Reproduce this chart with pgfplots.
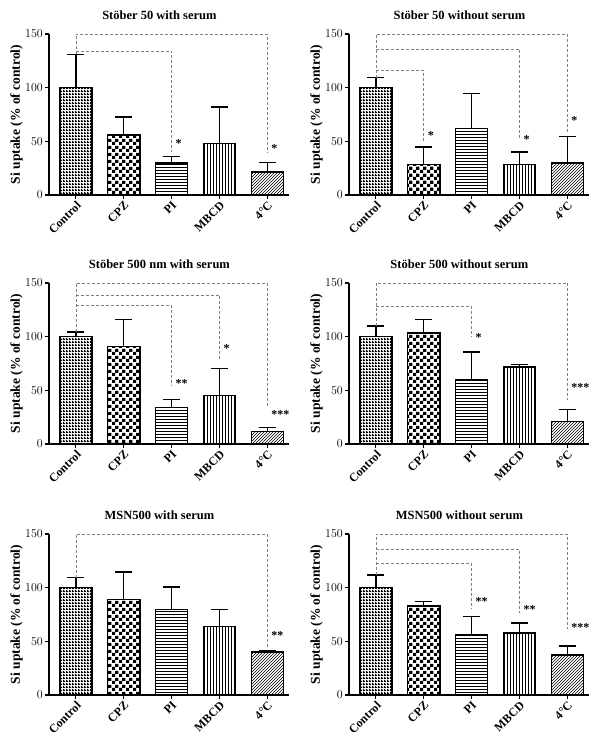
\documentclass[border=0pt]{standalone}
\usepackage{fontspec}
\setmainfont{Liberation Serif}
\usepackage{pgfplots}
\pgfplotsset{compat=1.18}
\usetikzlibrary{patterns}

\pgfdeclarepatternformonly{ctrlgrid}{\pgfpointorigin}{\pgfqpoint{2.5pt}{2.5pt}}{\pgfqpoint{2.5pt}{2.5pt}}{%
  \pgfpathrectangle{\pgfpointorigin}{\pgfqpoint{2.5pt}{1.2pt}}%
  \pgfpathrectangle{\pgfpointorigin}{\pgfqpoint{1.2pt}{2.5pt}}%
  \pgfusepath{fill}}
\pgfdeclarepatternformonly{bigchecker}{\pgfpointorigin}{\pgfqpoint{7pt}{7pt}}{\pgfqpoint{7pt}{7pt}}{%
  \pgfpathrectangle{\pgfpointorigin}{\pgfqpoint{3.5pt}{3.5pt}}%
  \pgfpathrectangle{\pgfqpoint{3.5pt}{3.5pt}}{\pgfqpoint{3.5pt}{3.5pt}}%
  \pgfusepath{fill}}

\newcommand{\lblfont}{\bfseries\fontsize{12}{12}\selectfont}
\newcommand{\tickfont}{\bfseries\fontsize{13}{13}\selectfont}
\newcommand{\ylblfont}{\bfseries\fontsize{13.5}{14}\selectfont}
\newcommand{\ttlfont}{\bfseries\fontsize{12.5}{14}\selectfont}
\newcommand{\starfont}{\bfseries\fontsize{12}{12}\selectfont}

\tikzset{sig/.style={densely dashed, gray, line width=0.6pt}}
\pgfplotsset{
  panel/.style={
    scale only axis, width=240pt, height=161pt, anchor=south west,
    xmin=-0.56, xmax=4.45, ymin=0, ymax=150,
    axis x line*=bottom, axis y line*=left,
    axis line style={line width=1.3pt, -},
    ytick={0,50,100,150}, xtick={0,1,2,3,4},
    xticklabels={Control,CPZ,PI,MBCD,4°C},
    tick style={line width=1.3pt, black}, tick align=outside, major tick length=4pt,
    xticklabel style={rotate=45, anchor=north east, font=\lblfont, inner sep=1pt},
    yticklabel style={font=\tickfont, inner sep=2pt},
    ylabel={Si uptake (\% of control)}, ylabel style={font=\ylblfont, yshift=-3pt},
    title style={font=\ttlfont, at={(axis description cs:0.46,1)}, anchor=base, yshift=8pt},
    clip=false,
  },
  barst/.style={ybar, bar width=0.67, bar shift=0pt, draw=black, line width=1.5pt,
    error bars/y dir=plus, error bars/y explicit,
    error bars/error bar style={line width=1.5pt, black, solid},
    error bars/error mark options={line width=1.5pt, black, mark size=8.5pt, rotate=90}},
}
\newcommand{\bars}[5]{%
  \addplot[barst, pattern=ctrlgrid] coordinates {(0,#1)};
  \addplot[barst, pattern=bigchecker] coordinates {(1,#2)};
  \addplot[barst, pattern=horizontal lines] coordinates {(2,#3)};
  \addplot[barst, pattern=vertical lines] coordinates {(3,#4)};
  \addplot[barst, pattern=north east lines] coordinates {(4,#5)};
}
\newcommand{\stars}[3]{\node[font=\starfont, anchor=base west, inner sep=0pt, yshift=-6.5pt] at (axis cs:#1+0.08,#2) {#3};}

\begin{document}
\begin{tikzpicture}[x=1pt,y=1pt]
\useasboundingbox (0,0) rectangle (604,747);

% Row 1 left
\begin{axis}[panel, at={(49pt,552pt)}, title={Stöber 50 with serum}]
\bars{100) +- (0,31}{56) +- (0,16.5}{30) +- (0,6}{48) +- (0,34}{21.5) +- (0,8.7}
\draw[sig] (axis cs:0,131) |- (axis cs:4,150) -- (axis cs:4,39);
\draw[sig] (axis cs:0,134) -- (axis cs:2,134) -- (axis cs:2,40);
\stars{2}{50}{*}
\stars{4}{46}{*}
\end{axis}

% Row 1 right
\begin{axis}[panel, at={(349pt,552pt)}, title={Stöber 50 without serum}]
\bars{100) +- (0,9.4}{28.2) +- (0,16.6}{62) +- (0,32.4}{28.2) +- (0,11.8}{29.7) +- (0,25}
\draw[sig] (axis cs:0,109.4) |- (axis cs:4,150) -- (axis cs:4,58.4);
\draw[sig] (axis cs:0,136) -- (axis cs:3,136) -- (axis cs:3,51.6);
\draw[sig] (axis cs:0,116) -- (axis cs:1,116) -- (axis cs:1,49);
\stars{1}{58}{*}
\stars{3}{54}{*}
\stars{4}{72}{*}
\end{axis}

% Row 2 left
\begin{axis}[panel, at={(49pt,303pt)}, title={Stöber 500 nm with serum}]
\bars{100) +- (0,4.5}{91) +- (0,25}{34) +- (0,7.6}{45.3) +- (0,25.2}{11.5) +- (0,4}
\draw[sig] (axis cs:0,104.5) |- (axis cs:4,150) -- (axis cs:4,35);
\draw[sig] (axis cs:0,139) -- (axis cs:3,139) -- (axis cs:3,78.6);
\draw[sig] (axis cs:0,129) -- (axis cs:2,129) -- (axis cs:2,53.7);
\stars{2}{59}{**}
\stars{3}{91.6}{*}
\stars{4}{29.5}{***}
\end{axis}

% Row 2 right
\begin{axis}[panel, at={(349pt,303pt)}, title={Stöber 500 without serum}]
\bars{100) +- (0,10}{103.4) +- (0,12.4}{60) +- (0,25.7}{71.7) +- (0,2.3}{21) +- (0,11}
\draw[sig] (axis cs:0,110) |- (axis cs:4,150) -- (axis cs:4,41);
\draw[sig] (axis cs:0,128) -- (axis cs:2,128) -- (axis cs:2,100.3);
\stars{2}{102}{*}
\stars{4}{55}{***}
\end{axis}

% Row 3 left
\begin{axis}[panel, at={(49pt,52pt)}, title={MSN500 with serum}]
\bars{100) +- (0,9.4}{89) +- (0,25.8}{79.8) +- (0,20.9}{64) +- (0,15.8}{40) +- (0,0.8}
\draw[sig] (axis cs:0,109.4) |- (axis cs:4,150) -- (axis cs:4,44.6);
\stars{4}{57.7}{**}
\end{axis}

% Row 3 right
\begin{axis}[panel, at={(349pt,52pt)}, title={MSN500 without serum}]
\bars{100) +- (0,12}{83) +- (0,4}{56) +- (0,17}{57.7) +- (0,9.3}{37.4) +- (0,8.4}
\draw[sig] (axis cs:0,112) |- (axis cs:4,150) -- (axis cs:4,61.4);
\draw[sig] (axis cs:0,135.6) -- (axis cs:3,135.6) -- (axis cs:3,76.4);
\draw[sig] (axis cs:0,122.5) -- (axis cs:2,122.5) -- (axis cs:2,81);
\stars{2}{89.5}{**}
\stars{3}{82}{**}
\stars{4}{65.5}{***}
\end{axis}
\end{tikzpicture}
\end{document}
